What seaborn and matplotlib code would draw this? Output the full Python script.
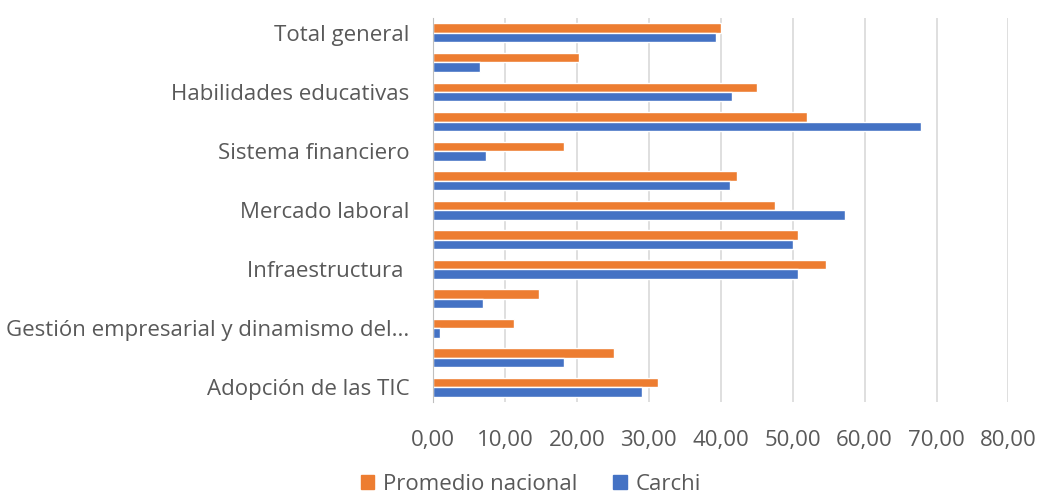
import numpy as np
import pandas as pd
import matplotlib
matplotlib.use('Agg')
import matplotlib.pyplot as plt
import seaborn as sns
from matplotlib.ticker import FuncFormatter
from matplotlib.patches import Patch

# Datos (de arriba hacia abajo)
categorias = ['Total general', 'Capacidad de innovación', 'Habilidades educativas',
              'Tamaño del mercado', 'Sistema financiero', 'Salud', 'Mercado laboral',
              'Instituciones', 'Infraestructura', 'Mercado de productos',
              'Gestión empresarial y dinamismo del sector', 'Estabilidad macroeconómica',
              'Adopción de las TIC']
etiquetas = ['Total general', '', 'Habilidades educativas', '', 'Sistema financiero', '',
             'Mercado laboral', '', 'Infraestructura ', '',
             'Gestión empresarial y dinamismo del...', '', 'Adopción de las TIC']
promedio_nacional = [40.0, 20.3, 45.1, 52.0, 18.2, 42.3, 47.5, 50.7, 54.6, 14.7, 11.2, 25.1, 31.3]
carchi = [39.4, 6.6, 41.6, 67.8, 7.4, 41.3, 57.3, 50.1, 50.8, 6.9, 1.0, 18.2, 29.0]
series = ['Promedio nacional', 'Carchi']
colores = ['#ED7D31', '#4472C4']

df = pd.DataFrame({
    'categoria': categorias * 2,
    'valor': promedio_nacional + carchi,
    'serie': [series[0]] * len(categorias) + [series[1]] * len(categorias),
})

sns.set_style('white')
plt.rcParams['font.family'] = ['Open Sans', 'DejaVu Sans']
gris = '#595959'
tam = 16

fig = plt.figure(figsize=(10.37, 5.04), dpi=100)
ax = fig.add_axes([0.4175, 0.202, 0.555, 0.762])

sns.barplot(data=df, y='categoria', x='valor', hue='serie', order=categorias,
            hue_order=series, palette=colores, orient='h', width=0.64,
            saturation=1, ax=ax, legend=False)

ax.set_xlim(0, 80)
ax.set_xticks(np.arange(0, 81, 10))
ax.xaxis.set_major_formatter(FuncFormatter(lambda v, p: f'{v:.2f}'.replace('.', ',')))
ax.set_yticks(range(len(categorias)))
ax.set_yticklabels(etiquetas)
ax.set_xlabel('')
ax.set_ylabel('')
ax.grid(axis='x', color='#D9D9D9', linewidth=1.2)
ax.set_axisbelow(True)
for s in ['top', 'right', 'bottom']:
    ax.spines[s].set_visible(False)
ax.spines['left'].set_color('#BFBFBF')
ax.tick_params(axis='both', length=0, labelsize=tam, colors=gris)
ax.tick_params(axis='y', pad=17)
ax.tick_params(axis='x', pad=20)

handles = [Patch(color=c, label=s) for s, c in zip(series, colores)]
fig.legend(handles=handles, loc='lower center', bbox_to_anchor=(0.512, -0.022), ncol=2,
           frameon=False, fontsize=tam, labelcolor=gris, handlelength=0.6,
           handleheight=0.6, handletextpad=0.4, columnspacing=1.6)

fig.savefig('out.png', dpi=100)
